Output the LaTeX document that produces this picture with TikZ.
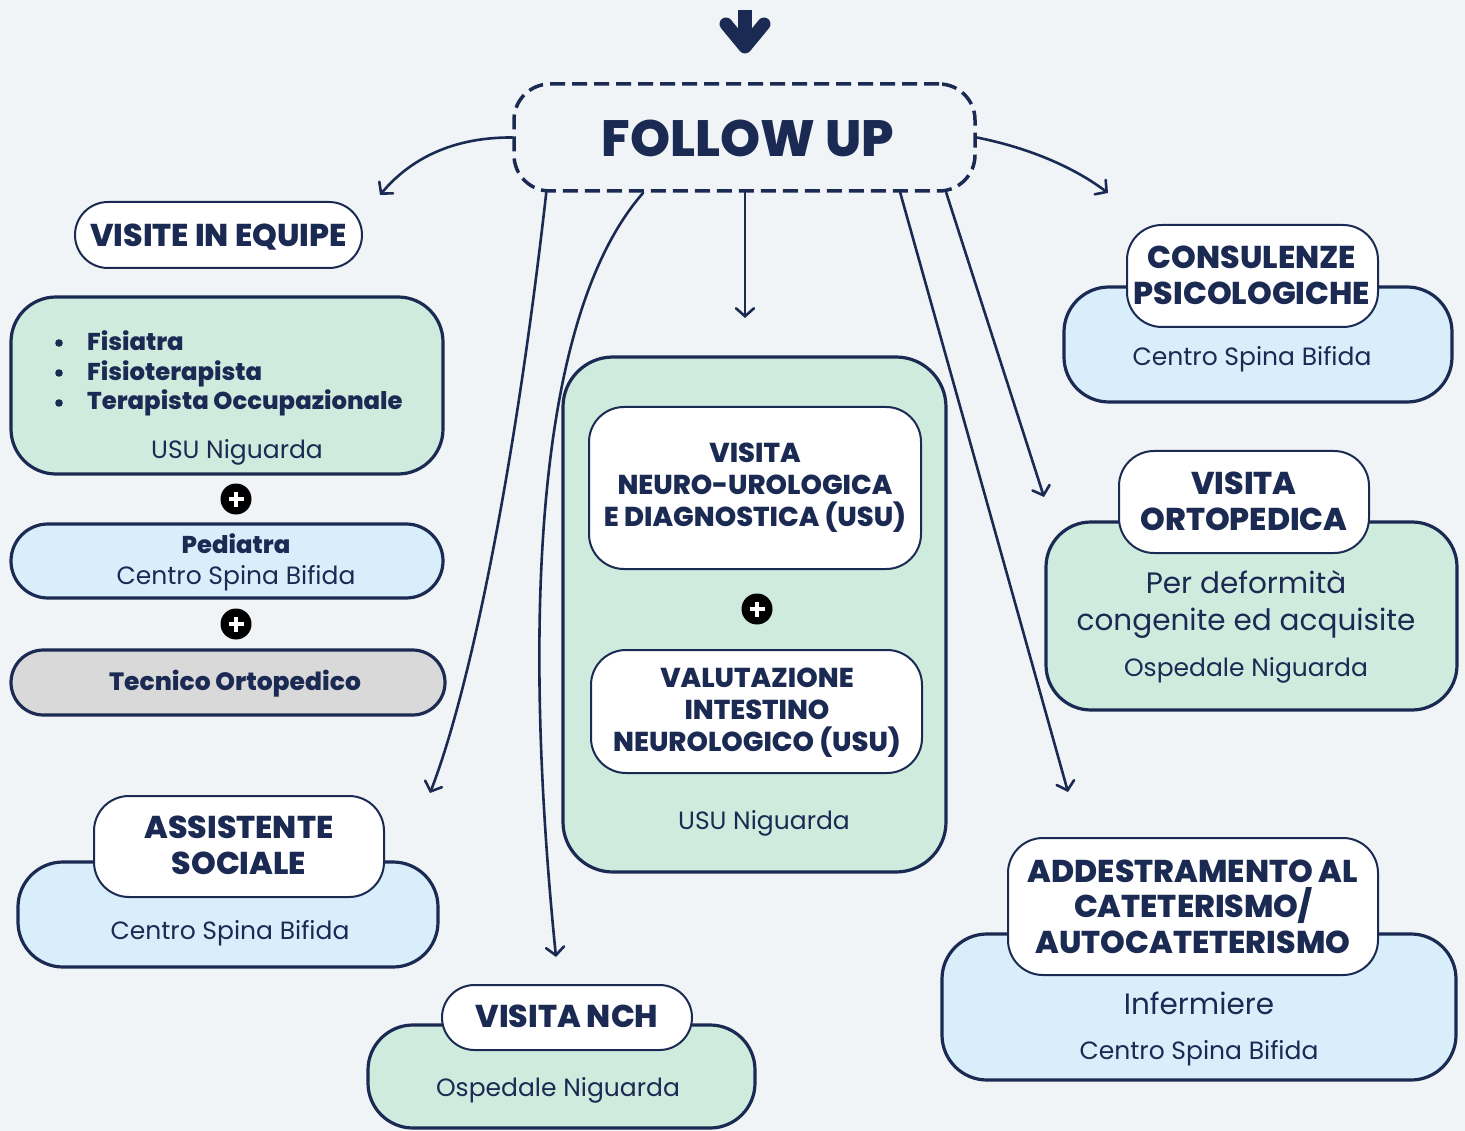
\documentclass[tikz,border=0pt]{standalone}
\usepackage{fontspec}
\setmainfont{Poppins}[BoldFont={Poppins ExtraBold}]
\usetikzlibrary{arrows.meta,calc}
\definecolor{navy}{HTML}{1B2A52}
\definecolor{bg}{HTML}{F0F4F6}
\definecolor{gfill}{HTML}{CFEBDE}
\definecolor{bfill}{HTML}{D8EEFB}
\definecolor{grfill}{HTML}{D9D9D9}
\begin{document}
\begin{tikzpicture}[x=1pt,y=-1pt,
  box/.style={draw=navy, line width=3.2pt, inner sep=0pt},
  gbox/.style={box, fill=gfill},
  bbox/.style={box, fill=bfill},
  head/.style={draw=navy, line width=2pt, fill=white, inner sep=0pt},
  lbl/.style={text=navy, inner sep=0pt, font=\fontsize{25}{30}\selectfont},
  big/.style={text=navy, inner sep=0pt, font=\fontsize{29.5}{37}\selectfont, align=center},
  hd/.style={text=navy, inner sep=0pt, font=\bfseries\fontsize{31.5}{35.5}\selectfont, align=center},
  hdc/.style={text=navy, inner sep=0pt, font=\bfseries\fontsize{27.3}{32}\selectfont, align=center},
  bl/.style={text=navy, inner sep=0pt, font=\bfseries\fontsize{24.3}{30}\selectfont},
  arr/.style={draw=navy, line width=2.6pt, line cap=round, -{Straight Barb[length=8pt,width=18pt,line cap=round]}},
  plusc/.style={circle, fill=black, minimum size=31pt, inner sep=0pt,
    path picture={\draw[white, line width=3.6pt]
      ([xshift=-7.5pt]path picture bounding box.center) -- ([xshift=7.5pt]path picture bounding box.center)
      ([yshift=-7.5pt]path picture bounding box.center) -- ([yshift=7.5pt]path picture bounding box.center);}}
]
\fill[bg] (0,0) rectangle (1465,1131);
\useasboundingbox (0,0) rectangle (1465,1131);

% top arrow
\draw[navy, line width=14pt] (745,10) -- (745,40);
\draw[navy, line width=13pt, line cap=round, line join=round] (726,24) -- (745,47) -- (764,24);

% FOLLOW UP
\node[draw=navy, line width=3.5pt, dash pattern=on 15pt off 7pt, rounded corners=36pt,
  minimum width=461pt, minimum height=107pt, inner sep=0pt] (fu) at (744.5,137.5) {};
\node[text=navy, inner sep=0pt, font=\bfseries\fontsize{51}{51}\selectfont, anchor=base] (fut) at (748,157) {FOLLOW UP};

% left column
\node[head, rounded corners=33pt, minimum width=287pt, minimum height=66pt] (eqh) at (218.5,235) {};
\node[hd, anchor=base] (eqht) at (218.5,247) {VISITE IN EQUIPE};
\node[gbox, rounded corners=45pt, minimum width=432pt, minimum height=177pt] (eqb) at (227,385.5) {};
\node[bl, anchor=base west] (b1) at (87,351) {Fisiatra};
\node[bl, anchor=base west] (b2) at (87,381) {Fisioterapista};
\node[bl, anchor=base west] (b3) at (87,410) {Terapista Occupazionale};
\foreach \yy in {343,373,403}
  \fill[navy] (59,\yy) circle (3.8pt);
\node[lbl, anchor=base] (eqn) at (237,459) {USU Niguarda};
\node[plusc] (p1) at (236,499) {};
\node[bbox, rounded corners=37pt, minimum width=432pt, minimum height=74pt] (ped) at (227,561) {};
\node[bl, anchor=base] (pedt) at (236,553) {Pediatra};
\node[lbl, anchor=base] (pedc) at (236,584) {Centro Spina Bifida};
\node[plusc] (p2) at (236,624) {};
\node[box, fill=grfill, rounded corners=32.5pt, minimum width=434pt, minimum height=65pt] (tec) at (228,682.5) {};
\node[bl, font=\bfseries\fontsize{25}{30}\selectfont, anchor=base] (tect) at (235,690) {Tecnico Ortopedico};

% assistente sociale
\node[bbox, rounded corners=45pt, minimum width=420pt, minimum height=105pt] (asb) at (228,914.5) {};
\node[head, rounded corners=35pt, minimum width=290pt, minimum height=101pt] (ash) at (239,846.5) {};
\node[hd] (asht) at (239,845.5) {ASSISTENTE\\SOCIALE};
\node[lbl, anchor=base] (asc) at (230,939) {Centro Spina Bifida};

% visita NCH
\node[gbox, rounded corners=45pt, minimum width=387pt, minimum height=103pt] (nchb) at (561.5,1076.5) {};
\node[head, rounded corners=32.5pt, minimum width=250pt, minimum height=65pt] (nchh) at (567,1017.5) {};
\node[hd, anchor=base] (nchht) at (567,1027) {VISITA NCH};
\node[lbl, anchor=base] (nchc) at (558,1096) {Ospedale Niguarda};

% center
\node[gbox, rounded corners=50pt, minimum width=383pt, minimum height=515pt] (cb) at (754.5,614.5) {};
\node[head, rounded corners=35pt, minimum width=332pt, minimum height=162pt] (in1) at (755,488) {};
\node[hdc] (in1t) at (755,488) {VISITA\\NEURO-UROLOGICA\\E DIAGNOSTICA (USU)};
\node[plusc] (p3) at (757,609) {};
\node[head, rounded corners=35pt, minimum width=331pt, minimum height=123pt] (in2) at (756.5,711.5) {};
\node[hdc] (in2t) at (757,712.5) {VALUTAZIONE\\INTESTINO\\NEUROLOGICO (USU)};
\node[lbl, anchor=base] (cbn) at (764,829) {USU Niguarda};

% consulenze
\node[bbox, rounded corners=45pt, minimum width=388pt, minimum height=115pt] (csb) at (1258,344.5) {};
\node[head, rounded corners=35pt, minimum width=251pt, minimum height=102pt] (csh) at (1252.5,276) {};
\node[hd] (csht) at (1252,275.5) {CONSULENZE\\PSICOLOGICHE};
\node[lbl, anchor=base] (csc) at (1252,366) {Centro Spina Bifida};

% ortopedica
\node[gbox, rounded corners=45pt, minimum width=411pt, minimum height=188pt] (orb) at (1251.5,616) {};
\node[head, rounded corners=35pt, minimum width=250pt, minimum height=102pt] (orh) at (1244,502) {};
\node[hd] (orht) at (1244,501.5) {VISITA\\ORTOPEDICA};
\node[big, anchor=base] (or1) at (1246,593) {Per deformità};
\node[big, anchor=base] (or2) at (1246,630) {congenite ed acquisite};
\node[lbl, anchor=base] (orc) at (1246,676) {Ospedale Niguarda};

% addestramento
\node[bbox, rounded corners=45pt, minimum width=514pt, minimum height=146pt] (adb) at (1199,1007) {};
\node[head, rounded corners=35pt, minimum width=370pt, minimum height=137pt] (adh) at (1193,906.5) {};
\node[hd] (adht) at (1193,906.5) {ADDESTRAMENTO AL\\CATETERISMO/\\AUTOCATETERISMO};
\node[big, anchor=base] (adi) at (1199,1014) {Infermiere};
\node[lbl, anchor=base] (adc) at (1199,1059) {Centro Spina Bifida};

% arrow ends
\coordinate (e1) at (380,195);
\coordinate (e2) at (1108,193);
\coordinate (e3) at (430,793);
\coordinate (e4) at (556,957);
\coordinate (e5) at (745,318);
\coordinate (e6) at (1068,792);
\coordinate (e7) at (1044,497);

\draw[arr] (fu.west) .. controls (445,137) and (405,165) .. (e1);
\draw[arr] (fu.east) .. controls (1030,148) and (1075,168) .. (e2);
\draw[arr] ($(fu.south west)+(34,0)$) .. controls (515,470) and (470,690) .. (e3);
\draw[arr] ($(fu.south west)+(131,0)$) .. controls (540,310) and (520,600) .. (e4);
\draw[arr] (fu.south) ++(0.5,0) -- (e5);
\draw[arr] ($(fu.south west)+(388,0)$) -- (e6);
\draw[arr] ($(fu.south west)+(434,0)$) -- (e7);
\end{tikzpicture}
\end{document}
